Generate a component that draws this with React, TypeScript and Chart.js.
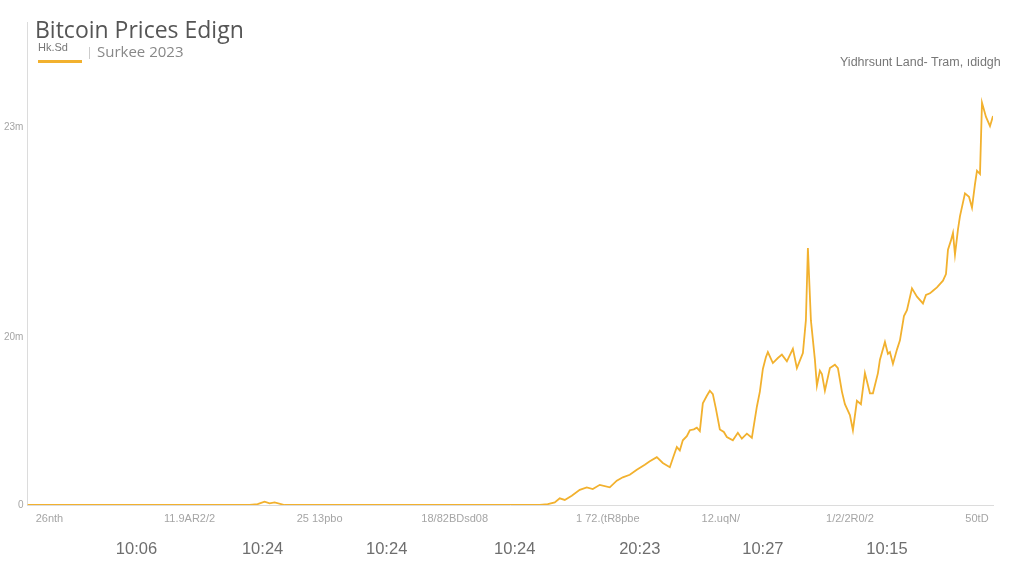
import React, { useEffect, useRef } from "react";
import { Chart, registerables } from "chart.js";

Chart.register(...registerables);

// Trading day index (x) and price (y, in millions)
const days = [
  0, 44.4, 46, 47.4, 48.4, 49.4, 51.4, 102.4, 104, 105.4, 106.4, 107.4, 108.8, 110.4, 111.8, 113,
  114.4, 116.4, 117.8, 119, 120.4, 121.8, 123.4, 124.4, 125.8, 127, 128.4, 129.2, 129.8, 130.4, 131,
  131.8, 132.4, 133.2, 133.8, 134.4, 135, 135.8, 136.4, 137, 137.6, 138.4, 139.2, 139.8, 141, 142,
  142.8, 143.8, 144.8, 145.8, 146.4, 147, 147.6, 148, 149, 150, 150.8, 151.8, 153, 153.8, 155, 155.6,
  156, 156.6, 157.4, 157.8, 158.4, 158.8, 159.4, 160.4, 161.4, 162, 162.8, 163.4, 164.4, 165, 165.8,
  166.6, 167.4, 168.4, 169, 170, 170.4, 171.4, 172, 172.4, 173, 173.8, 174.4, 175.2, 175.8, 176.8,
  177.8, 179, 179.6, 180.4, 181, 181.8, 183, 183.6, 184, 184.6, 185, 185.4, 186, 186.4, 187.4, 188.2,
  188.8, 189.4, 189.8, 190.4, 190.8, 191.6, 192.4, 193,
];
const prices = [
  0, 0, 0.1, 0.4, 0.2, 0.3, 0, 0, 0.1, 0.3, 0.8, 0.6, 1.1, 1.8, 2.1, 1.9,
  2.4, 2.1, 2.9, 3.3, 3.6, 4.2, 4.8, 5.2, 5.7, 5.0, 4.5, 5.9, 6.9, 6.5, 7.7,
  8.2, 8.9, 9.0, 9.2, 8.8, 12.1, 13.0, 13.6, 13.2, 11.5, 9.0, 8.7, 8.1, 7.7, 8.6,
  7.9, 8.5, 8.0, 11.7, 13.5, 16.2, 17.6, 18.2, 16.9, 17.5, 17.9, 17.1, 18.6, 16.3, 18.1, 22,
  30.6, 22, 17.3, 14.2, 16.0, 15.6, 13.6, 16.3, 16.7, 16.3, 13.5, 12.0, 10.7, 8.9, 12.4,
  12.0, 15.7, 13.3, 13.3, 15.7, 17.3, 19.4, 18.0, 18.2, 16.8, 18.5, 19.6, 22.5, 23.2, 25.8,
  24.8, 24.0, 25.0, 25.2, 25.5, 25.9, 26.7, 27.5, 30.4, 31.5, 32.4, 29.8, 32.8, 34.4, 37.1, 36.7,
  35.4, 38.2, 39.8, 39.4, 47.9, 46.2, 45.1, 46.3,
];

const dateTickDays = [4.4, 32.4, 58.4, 85.4, 116, 138.6, 164.4, 189.8];
const dateTickLabels = ["26nth", "11.9AR2/2", "25 13pbo", "18/82BDsd08", "1 72.(tR8pbe", "12.uqN/", "1/2/2R0/2", "50tD"];
const timeTickDays = [21.8, 47, 71.8, 97.4, 122.4, 147, 171.8];
const timeTickLabels = ["10:06", "10:24", "10:24", "10:24", "20:23", "10:27", "10:15"];
const priceTickValues = [0, 20, 45];
const priceTickLabels = ["0", "20m", "23m"];

const GOLD = "#F2B12E";

export default function App() {
  const canvasRef = useRef<HTMLCanvasElement | null>(null);

  useEffect(() => {
    document.body.style.margin = "0";
    const canvas = canvasRef.current;
    if (!canvas) return;
    const chart = new Chart(canvas, {
      type: "line",
      data: {
        datasets: [
          {
            label: "Hk.Sd",
            data: days.map((d, i) => ({ x: d, y: prices[i] })),
            borderColor: GOLD,
            borderWidth: 1.8,
            pointRadius: 0,
            tension: 0,
            fill: false,
          },
        ],
      },
      options: {
        responsive: false,
        animation: false,
        devicePixelRatio: 1,
        layout: { padding: { left: 0, right: 31, top: 22, bottom: 10 } },
        plugins: { legend: { display: false }, title: { display: false }, tooltip: { enabled: false } },
        scales: {
          x: {
            type: "linear",
            position: "bottom",
            min: 0,
            max: 193,
            grid: { display: false, drawTicks: false },
            border: { display: true, color: "#dcdcdc", width: 1 },
            afterBuildTicks: (s: any) => {
              s.ticks = dateTickDays.map((v) => ({ value: v }));
            },
            ticks: {
              autoSkip: false,
              maxRotation: 0,
              padding: 7,
              color: "#a5a5a5",
              font: { size: 11, family: "'Liberation Sans', Arial, sans-serif" },
              callback: (_v: any, i: number) => dateTickLabels[i],
            },
          },
          x2: {
            type: "linear",
            position: "bottom",
            min: 0,
            max: 193,
            grid: { display: false, drawTicks: false },
            border: { display: false },
            afterBuildTicks: (s: any) => {
              s.ticks = timeTickDays.map((v) => ({ value: v }));
            },
            ticks: {
              autoSkip: false,
              maxRotation: 0,
              padding: 7,
              color: "#6e6e6e",
              font: { size: 16.5, family: "'Liberation Sans', Arial, sans-serif" },
              callback: (_v: any, i: number) => timeTickLabels[i],
            },
          },
          y: {
            type: "linear",
            min: 0,
            max: 57.5,
            grid: { display: false, drawTicks: false },
            border: { display: true, color: "#dcdcdc", width: 1 },
            afterBuildTicks: (s: any) => {
              s.ticks = priceTickValues.map((v) => ({ value: v }));
            },
            ticks: {
              autoSkip: false,
              padding: 4,
              color: "#a5a5a5",
              font: { size: 10, family: "'Liberation Sans', Arial, sans-serif" },
              callback: (_v: any, i: number) => priceTickLabels[i],
            },
          },
        },
      },
    });
    return () => chart.destroy();
  }, []);

  return (
    <div style={{ position: "fixed", left: 0, top: 0, width: 1024, height: 576, background: "#fff", overflow: "hidden" }}>
      <canvas ref={canvasRef} width={1024} height={576} style={{ position: "absolute", left: 0, top: 0 }} />
      <div style={{ position: "absolute", left: 35, top: 18, fontFamily: "'Open Sans', sans-serif", fontSize: 23, lineHeight: 1, color: "#555", whiteSpace: "nowrap" }}>
        Bitcoin Prices Edign
      </div>
      <div style={{ position: "absolute", left: 38, top: 42, fontFamily: "'Liberation Sans', sans-serif", fontSize: 11, lineHeight: 1, color: "#777", whiteSpace: "nowrap" }}>
        Hk.Sd
      </div>
      <div style={{ position: "absolute", left: 38, top: 60, width: 44, height: 2.5, background: GOLD }} />
      <div style={{ position: "absolute", left: 89, top: 47, width: 1, height: 12, background: "#ccc" }} />
      <div style={{ position: "absolute", left: 97, top: 44, fontFamily: "'Open Sans', sans-serif", fontSize: 15, lineHeight: 1, color: "#888", whiteSpace: "nowrap" }}>
        Surkee 2023
      </div>
      <div style={{ position: "absolute", left: 840, top: 56, fontFamily: "'Liberation Sans', sans-serif", fontSize: 12.5, lineHeight: 1, color: "#777", whiteSpace: "nowrap" }}>
        Yidhrsunt Land- Tram, ıdidgh
      </div>
    </div>
  );
}
